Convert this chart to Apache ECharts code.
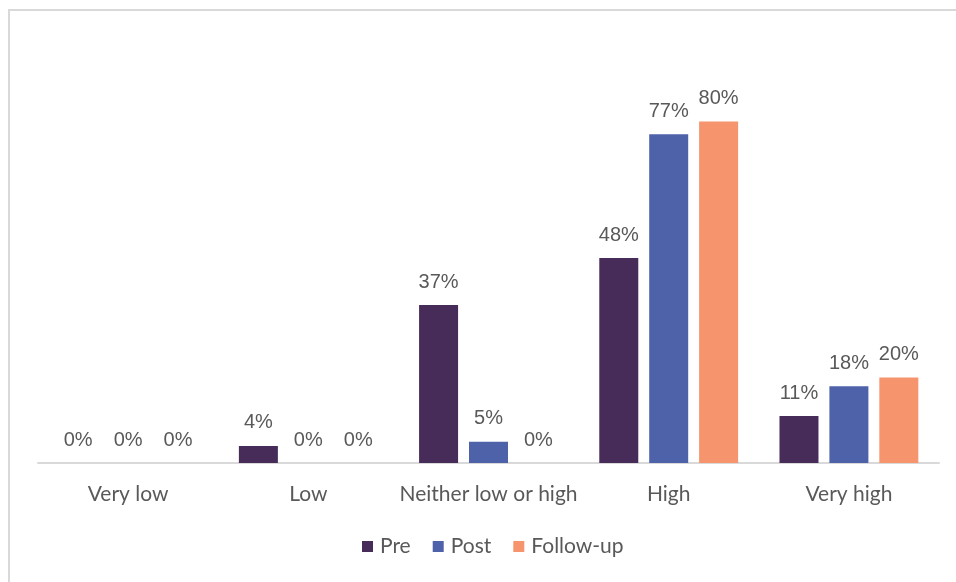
<!DOCTYPE html>
<html>
<head>
<meta charset="utf-8">
<script src="https://cdn.jsdelivr.net/npm/echarts@6/dist/echarts.min.js"></script>
<style>
  html, body { margin: 0; padding: 0; background: #ffffff; }
  #frame { position: absolute; left: 8px; top: 9px; width: 948px; height: 573px;
           border-left: 2px solid #d9d9d9; border-top: 2px solid #d9d9d9; box-sizing: border-box; }
  #chart { position: absolute; left: 0; top: 0; width: 956px; height: 582px; }
</style>
</head>
<body>
<div id="frame"></div>
<div id="chart"></div>
<script>
// Response categories and percentages per survey wave
const categories = ['Very low', 'Low', 'Neither low or high', 'High', 'Very high'];
const preValues = [0, 4, 37, 48, 11];
const postValues = [0, 0, 5, 77, 18];
const followUpValues = [0, 0, 0, 80, 20];
const seriesNames = ['Pre', 'Post', 'Follow-up'];
const seriesColors = ['#472b59', '#4e62aa', '#f5946d'];

const textFont = 'Lato, "Open Sans", sans-serif';

const labelStyle = {
  show: true,
  position: 'top',
  distance: 13,
  color: '#595959',
  fontSize: 20,
  fontFamily: 'Liberation Sans, Arial, sans-serif',
  formatter: p => p.value + '%'
};

function makeSeries(name, data, color) {
  return {
    name: name,
    type: 'bar',
    data: data,
    barWidth: 39,
    barGap: '28%',
    itemStyle: { color: color },
    label: labelStyle
  };
}

const chart = echarts.init(document.getElementById('chart'), null, { renderer: 'canvas' });
chart.setOption({
  animation: false,
  backgroundColor: 'transparent',
  grid: { left: 38, right: 17, top: 36, bottom: 119 },
  legend: {
    data: seriesNames,
    bottom: 20,
    left: 357,
    itemWidth: 11,
    itemHeight: 11,
    itemGap: 22,
    icon: 'rect',
    textStyle: { color: '#595959', fontSize: 21, fontFamily: textFont, padding: [0, 0, 0, 2] }
  },
  xAxis: {
    type: 'category',
    data: categories,
    axisLine: { lineStyle: { color: '#d9d9d9', width: 2 } },
    axisTick: { show: false },
    axisLabel: { color: '#595959', fontSize: 21, fontFamily: textFont, margin: 21, interval: 0 }
  },
  yAxis: {
    type: 'value',
    min: 0,
    max: 100,
    show: false,
    splitLine: { show: false }
  },
  series: [
    makeSeries(seriesNames[0], preValues, seriesColors[0]),
    makeSeries(seriesNames[1], postValues, seriesColors[1]),
    makeSeries(seriesNames[2], followUpValues, seriesColors[2])
  ]
});
</script>
</body>
</html>
